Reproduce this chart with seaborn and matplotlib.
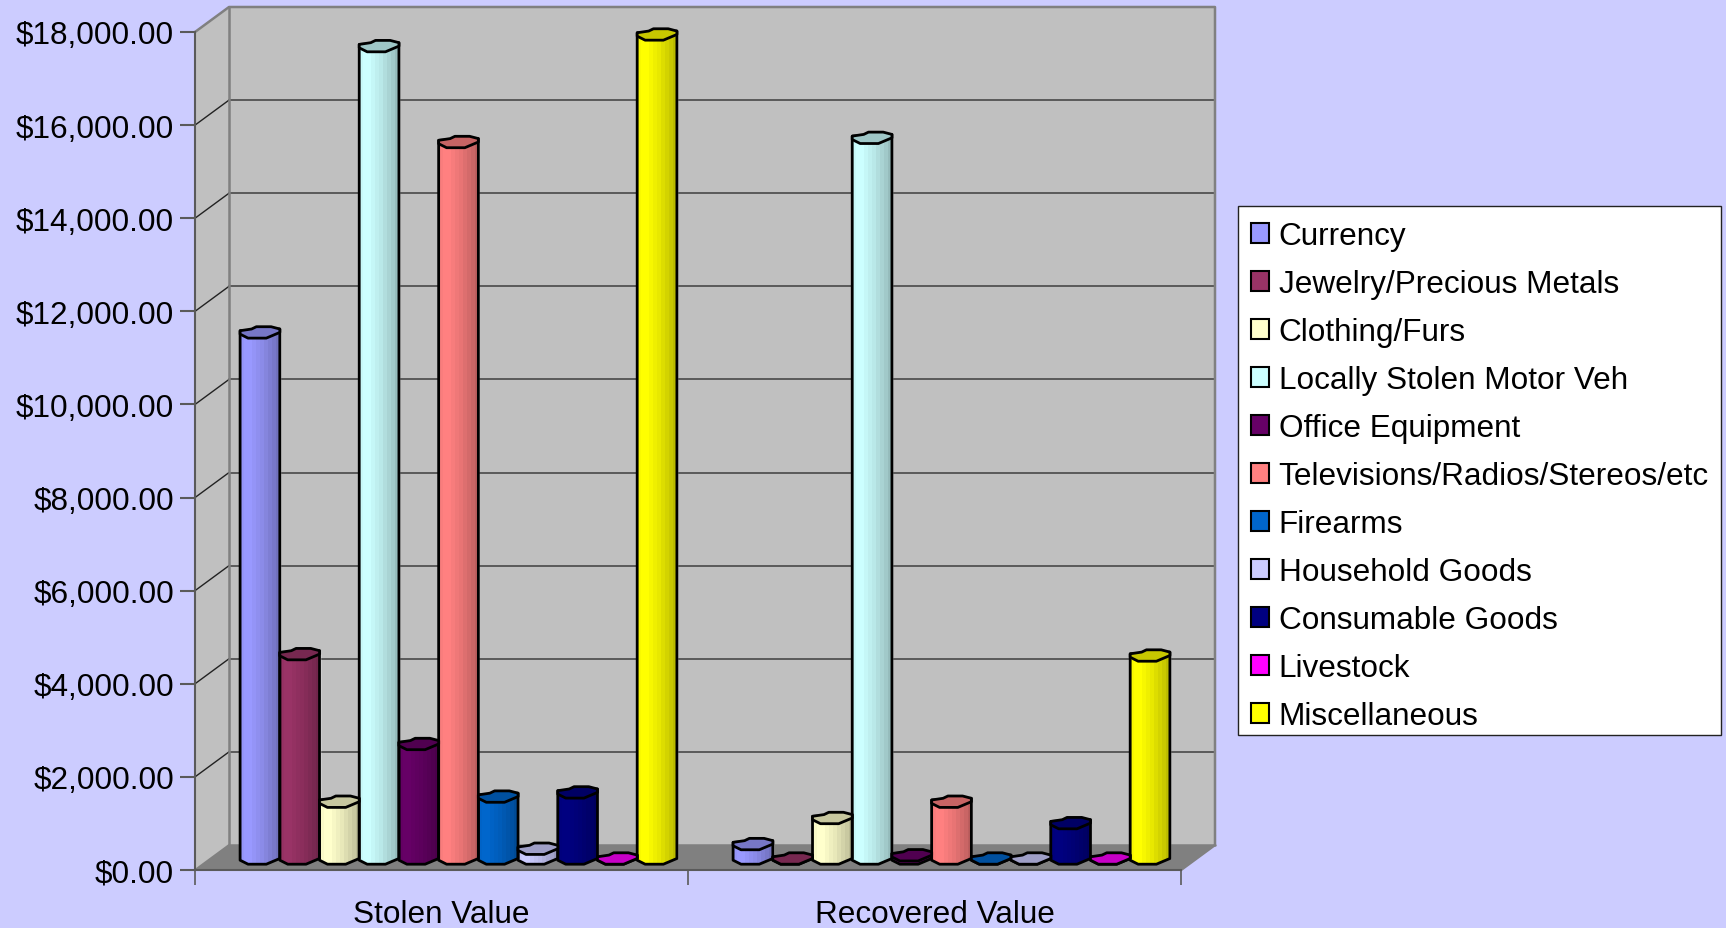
import numpy as np
import pandas as pd
import seaborn as sns
import matplotlib.pyplot as plt
from matplotlib.patches import Polygon, Rectangle
from matplotlib.colors import to_rgb
from matplotlib.ticker import FuncFormatter

groups = ['Stolen Value', 'Recovered Value']
items = ['Currency', 'Jewelry/Precious Metals', 'Clothing/Furs', 'Locally Stolen Motor Veh',
         'Office Equipment', 'Televisions/Radios/Stereos/etc', 'Firearms', 'Household Goods',
         'Consumable Goods', 'Livestock', 'Miscellaneous']
stolen = [11300, 4390, 1220, 17450, 2460, 15390, 1330, 210, 1420, 0, 17700]
recovered = [310, 0, 870, 15480, 70, 1220, 0, 0, 760, 0, 4360]
colors = ['#9999ff', '#993366', '#ffffcc', '#ccffff', '#660066', '#ff8080',
          '#0066cc', '#ccccff', '#000080', '#ff00ff', '#ffff00']
y_ticks = [0, 2000, 4000, 6000, 8000, 10000, 12000, 14000, 16000, 18000]

W, H = 1726, 929
BG = '#ccccff'
# frame in pixels
x0, x1, y0, y1 = 195, 1181, 871, 33
dx, dy = 34, -25
px_per_val = (y0 - y1) / 18000

df = pd.DataFrame({
    'group': [g for g in groups for _ in items],
    'item': items * 2,
    'value': stolen + recovered,
})

sns.set_style('white')
plt.rcParams['font.family'] = ['Liberation Sans', 'DejaVu Sans']
plt.rcParams['text.color'] = 'black'
FS = 22.7

fig = plt.figure(figsize=(W / 100, H / 100), dpi=100, facecolor=BG)


def pos(left, right, bottom, top):
    return [left / W, 1 - bottom / H, (right - left) / W, (bottom - top) / H]


# walls and floor, in pixel coordinates
bg = fig.add_axes([0, 0, 1, 1])
bg.set_xlim(0, W)
bg.set_ylim(H, 0)
bg.axis('off')
bg.patch.set_alpha(0)
bg.add_patch(Polygon([(x0 + dx, y0 + dy), (x1 + dx, y0 + dy), (x1 + dx, y1 + dy), (x0 + dx, y1 + dy)],
                     fc='#c0c0c0', ec='none'))
bg.add_patch(Polygon([(x0, y0), (x0 + dx, y0 + dy), (x0 + dx, y1 + dy), (x0, y1)], fc='#c0c0c0', ec='none'))
bg.add_patch(Polygon([(x0, y0), (x1, y0), (x1 + dx, y0 + dy), (x0 + dx, y0 + dy)], fc='#808080', ec='none'))
for v in y_ticks[1:-1]:
    yy = y0 - v * px_per_val
    bg.plot([x0 + dx, x1 + dx], [yy + dy, yy + dy], color='#5a5a5a', lw=1.4)
    bg.plot([x0, x0 + dx], [yy, yy + dy], color='#222222', lw=1)
# wall borders
bg.plot([x0, x0 + dx, x1 + dx, x1 + dx, x1], [y1, y1 + dy, y1 + dy, y0 + dy, y0], color='#808080', lw=1.8)
bg.plot([x0 + dx, x0 + dx, x1 + dx], [y1 + dy, y0 + dy, y0 + dy], color='#808080', lw=1.8)
bg.plot([x0, x0 + dx], [y0, y0 + dy], color='#808080', lw=1.4)
# legend box
bg.add_patch(Rectangle((1238, 207), 483, 529, fc='white', ec='#222222', lw=1))

# front axis with the ticks and labels
front = fig.add_axes(pos(x0, x1, y0, y1))
front.patch.set_alpha(0)
front.set_xlim(0, 2)
front.set_ylim(0, 18000)
front.set_yticks(y_ticks)
front.yaxis.set_major_formatter(FuncFormatter(lambda v, _: f'${v:,.2f}'))
front.set_xticks([0, 1, 2])
front.set_xticklabels([])
front.set_xticks([0.5, 1.5], labels=groups, minor=True)
front.tick_params(axis='y', length=11, width=1.5, color='#5a5a5a', labelsize=FS, pad=4, labelcolor='black', left=True)
front.tick_params(axis='x', which='major', length=11, width=1.2, color='#5a5a5a', bottom=True)
front.tick_params(axis='x', which='minor', length=0, labelsize=FS, pad=21, labelcolor='black')
for s in ['top', 'right']:
    front.spines[s].set_visible(False)
for s in ['left', 'bottom']:
    front.spines[s].set_color('#5a5a5a')
    front.spines[s].set_linewidth(1.5)

# bars sit half way into the depth of the box
ax = fig.add_axes(pos(x0 + dx / 2, x1 + dx / 2, y0 + dy / 2 + 1, y1 + dy / 2 + 1))
ax.patch.set_alpha(0)
sns.barplot(data=df, x='group', y='value', hue='item', hue_order=items, palette=colors, saturation=1,
            width=0.886, gap=0, legend=False, ax=ax)
ax.set_xlim(-0.5, 1.5)
ax.set_ylim(0, 18000)
ax.axis('off')

cap_h = 11.4 / px_per_val
bands = np.array([0.98, 1, 1, 0.97, 0.94, 0.91, 0.87, 0.83, 0.79, 0.74])
cap_shape = [(0, .15), (.29, .3), (.41, .5), (.78, .5), (1, .3), (1, 0), (.66, -.5), (.2, -.5), (0, -.15)]

# turn each seaborn bar into a shaded cylinder
bars = [p for p in ax.patches if isinstance(p, Rectangle)]
for p in bars:
    bx, bw, h = p.get_x(), p.get_width(), p.get_height()
    rgb = np.array(to_rgb(p.get_facecolor()[:3]))
    pts = [(bx, h + .15 * cap_h), (bx + bw, h + .3 * cap_h), (bx + bw, 0), (bx + .66 * bw, -.5 * cap_h),
           (bx + .2 * bw, -.5 * cap_h), (bx, -.15 * cap_h)]
    body = Polygon(pts, closed=True, fc='none', ec='black', lw=2, zorder=4, joinstyle='round', clip_on=False)
    ax.add_patch(body)
    img = ax.imshow(bands[None, :, None] * rgb, extent=(bx, bx + bw, -cap_h, h + cap_h), aspect='auto',
                    interpolation='nearest', zorder=3)
    img.set_clip_box(fig.bbox)
    img.set_clip_path(body)
    cap = [(bx + u * bw, h + v * cap_h) for u, v in cap_shape]
    ax.add_patch(Polygon(cap, closed=True, fc=rgb * 0.78, ec='black', lw=2, zorder=5, joinstyle='round',
                         clip_on=False))
ax.set_xlim(-0.5, 1.5)
ax.set_ylim(0, 18000)

# legend
handles = [Rectangle((0, 0), 1, 1, fc=c, ec='black', lw=1.5) for c in colors]
leg = fig.legend(handles, items, loc='upper left', bbox_to_anchor=(1238 / W, 1 - 209 / H), fontsize=FS,
                 frameon=False, handlelength=0.57, handleheight=0.57, handletextpad=0.3, labelspacing=0.57,
                 borderpad=0.42, borderaxespad=0)
for t in leg.get_texts():
    t.set_color('black')

fig.savefig('out.png', dpi=100)
